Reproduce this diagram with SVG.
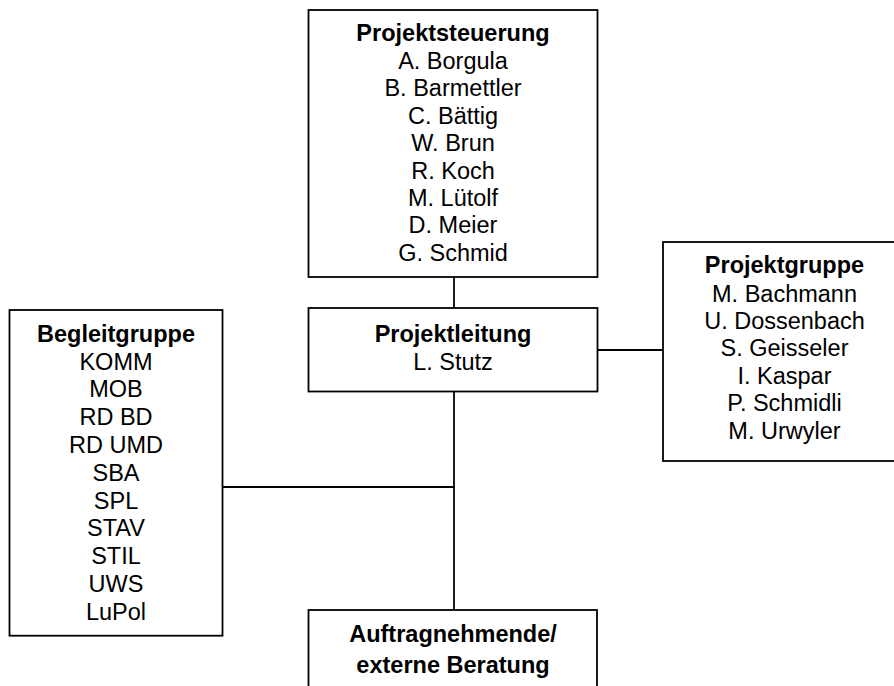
<svg xmlns="http://www.w3.org/2000/svg" width="894" height="686" viewBox="0 0 894 686">
<style>
.box{fill:#fff;stroke:#000;stroke-width:1.8}
.ln{fill:none;stroke:#000;stroke-width:1.8}
text{font-family:"Liberation Sans",Arial,sans-serif;font-size:23.5px;fill:#000;text-anchor:middle}
.t{font-weight:bold}
</style>
<rect width="894" height="686" fill="#fff"/>
<g id="connectors">
<line class="ln" x1="454" y1="277" x2="454" y2="308"/>
<line class="ln" x1="598" y1="350" x2="663" y2="350"/>
<line class="ln" x1="454" y1="391" x2="454" y2="610"/>
<line class="ln" x1="222.5" y1="487" x2="454" y2="487"/>
</g>
<g id="projektsteuerung">
<rect class="box" x="308.5" y="10" width="289" height="267"/>
<text class="t" x="453" y="40.7">Projektsteuerung</text>
<text x="453" y="69">A. Borgula</text>
<text x="453" y="96.4">B. Barmettler</text>
<text x="453" y="123.8">C. Bättig</text>
<text x="453" y="151.2">W. Brun</text>
<text x="453" y="178.6">R. Koch</text>
<text x="453" y="206">M. Lütolf</text>
<text x="453" y="233.4">D. Meier</text>
<text x="453" y="260.8">G. Schmid</text>
</g>
<g id="projektleitung">
<rect class="box" x="308.5" y="308" width="289" height="83.5"/>
<text class="t" x="453" y="341.7">Projektleitung</text>
<text x="453" y="369.5">L. Stutz</text>
</g>
<g id="projektgruppe">
<rect class="box" x="663" y="242" width="250" height="219"/>
<text class="t" x="784.5" y="273">Projektgruppe</text>
<text x="784.5" y="301.5">M. Bachmann</text>
<text x="784.5" y="328.9">U. Dossenbach</text>
<text x="784.5" y="356.3">S. Geisseler</text>
<text x="784.5" y="383.7">I. Kaspar</text>
<text x="784.5" y="411.1">P. Schmidli</text>
<text x="784.5" y="438.5">M. Urwyler</text>
</g>
<g id="begleitgruppe">
<rect class="box" x="9.5" y="310" width="213" height="325.7"/>
<text class="t" x="116" y="341.7">Begleitgruppe</text>
<text x="116" y="369.5">KOMM</text>
<text x="116" y="397.3">MOB</text>
<text x="116" y="425.1">RD BD</text>
<text x="116" y="452.9">RD UMD</text>
<text x="116" y="480.7">SBA</text>
<text x="116" y="508.5">SPL</text>
<text x="116" y="536.3">STAV</text>
<text x="116" y="564.1">STIL</text>
<text x="116" y="591.9">UWS</text>
<text x="116" y="619.7">LuPol</text>
</g>
<g id="auftragnehmende">
<rect class="box" x="308.5" y="610" width="288.5" height="100"/>
<text class="t" x="453" y="642">Auftragnehmende/</text>
<text class="t" x="453" y="673">externe Beratung</text>
</g>
</svg>
